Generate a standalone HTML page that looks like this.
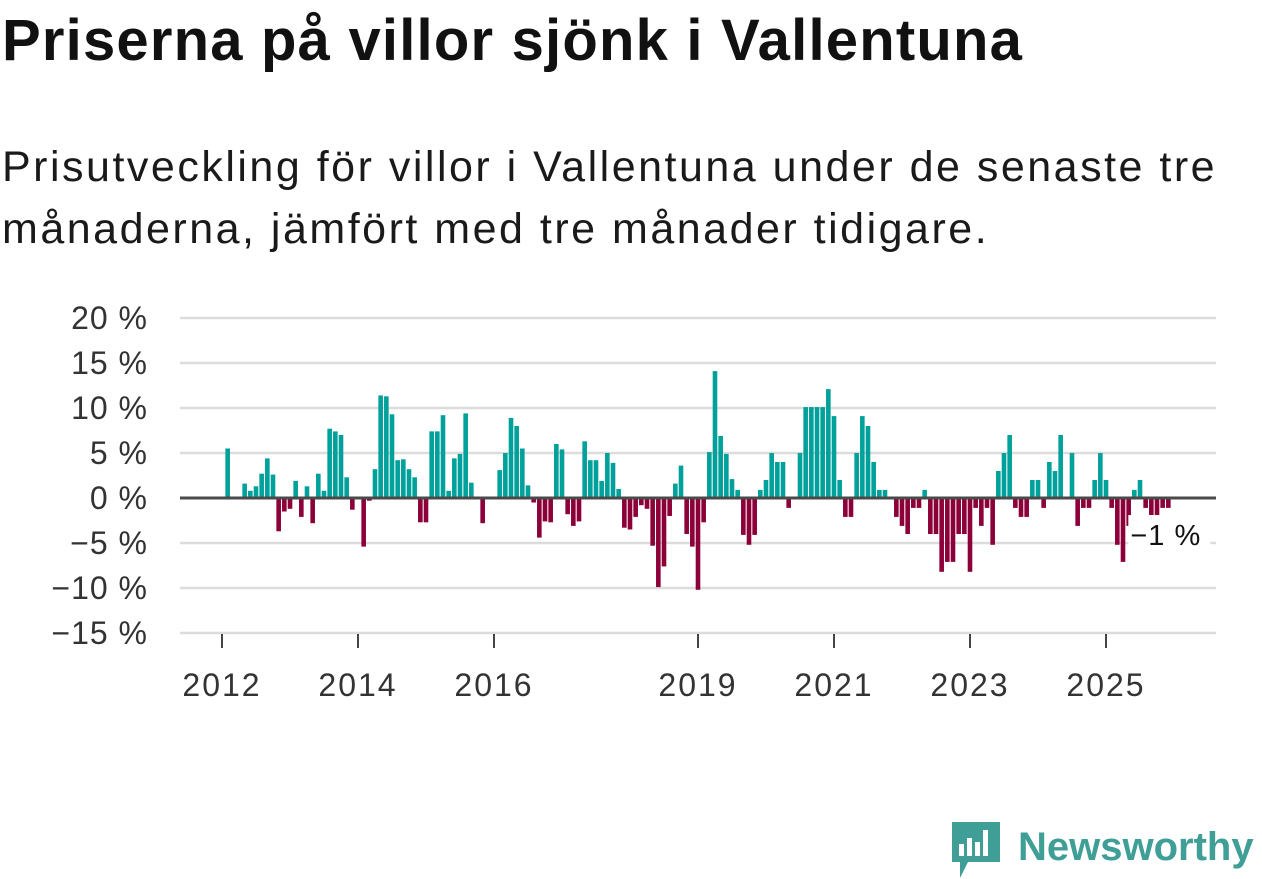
<!DOCTYPE html>
<html><head><meta charset="utf-8">
<style>
body{margin:0;background:#fff;width:1262px;height:879px;overflow:hidden;font-family:"Liberation Sans",sans-serif;color:#111}
h1{position:absolute;left:2px;top:7px;margin:0;font-size:58px;font-weight:bold;letter-spacing:1.2px}
.sub{position:absolute;left:2px;top:136px;margin:0;font-size:43px;line-height:62px;color:#1a1a1a;letter-spacing:2.5px}
svg{position:absolute;left:0;top:0}
</style></head><body>
<h1>Priserna på villor sjönk i Vallentuna</h1>
<p class="sub">Prisutveckling för villor i Vallentuna under de senaste tre<br>månaderna, jämfört med tre månader tidigare.</p>
<svg id="chart" width="1262" height="879"></svg>
<script>
const values = [0,5.5,0,0,1.6,0.8,1.3,2.7,4.4,2.6,-3.7,-1.5,-1.2,1.9,-2.1,1.3,-2.8,2.7,0.8,7.7,7.4,7.0,2.3,-1.3,0,-5.4,-0.3,3.2,11.4,11.3,9.3,4.2,4.3,3.2,2.3,-2.7,-2.7,7.4,7.4,9.2,0.8,4.4,4.9,9.4,1.7,0,-2.8,0,0,
3.1,5.0,8.9,8.0,5.5,1.4,-0.5,-4.4,-2.6,-2.7,6.0,5.4,-1.8,-3.1,-2.6,6.3,4.2,4.2,1.9,5.0,3.9,1.0,-3.3,-3.5,-2.1,-0.8,-1.2,-5.3,-9.9,-7.6,-2.0,1.6,3.6,-4.0,-5.4,-10.2,-2.7,5.1,14.1,6.9,4.9,2.1,0.9,-4.1,-5.2,-4.1,0.9,2.0,
5.0,4.0,4.0,-1.1,0,5.0,10.1,10.1,10.1,10.1,12.1,9.1,2.0,-2.1,-2.1,5.0,9.1,8.0,4.0,0.9,0.9,0,-2.1,-3.1,-4.0,-1.1,-1.1,0.9,-4.0,-4.0,-8.2,-7.1,-7.1,-4.0,-4.0,-8.2,-1.1,-3.1,-1.1,-5.2,3.0,5.0,
7.0,-1.1,-2.1,-2.1,2.0,2.0,-1.1,4.0,3.0,7.0,0,5.0,-3.1,-1.1,-1.1,2.0,5.0,2.0,-1.1,-5.2,-7.1,-3.1,0.9,2.0,-1.1,-2.1,-1.9,-1.1,-1.1];
const yTicks = [20,15,10,5,0,-5,-10,-15];
const yTickLabels = ["20 %","15 %","10 %","5 %","0 %","−5 %","−10 %","−15 %"];
const xTickYears = [2012,2014,2016,2019,2021,2023,2025];
const lastLabel = "−1 %";

const svg = document.getElementById('chart');
const NS = 'http://www.w3.org/2000/svg';
const x0 = 222, pxPerMonth = 68/12, y0 = 498, pxPerPct = 9;
const xScale = m => x0 + m*pxPerMonth;
const yScale = v => y0 - v*pxPerPct;
function mk(tag, attrs){const e=document.createElementNS(NS,tag);for(const k in attrs)e.setAttribute(k,attrs[k]);svg.appendChild(e);return e;}

yTicks.forEach((t,i)=>{
  const g = mk('line',{x1:180,x2:1216,y1:yScale(t),y2:yScale(t),stroke:'#dcdcdc','stroke-width':2.5});
  
  
  const tx = mk('text',{x:148,y:yScale(t)+11,'text-anchor':'end','font-size':32,'letter-spacing':1,fill:'#333','font-family':'Liberation Sans, sans-serif'});
  tx.textContent = yTickLabels[i];
  
  
});
xTickYears.forEach(yr=>{
  const x = xScale((yr-2012)*12);
  const l = mk('line',{x1:x,x2:x,y1:634,y2:648,stroke:'#444','stroke-width':2});
  
  
  const tx = mk('text',{x:x,y:696,'text-anchor':'middle','font-size':32,'letter-spacing':2,fill:'#333','font-family':'Liberation Sans, sans-serif'});
  tx.textContent = yr;
  
  
});
values.forEach((v,m)=>{
  if(v===0) return;
  const x = xScale(m);
  const r = mk('rect',{x:x-2.3,width:4.6,y:Math.min(yScale(v),y0),height:Math.abs(v)*pxPerPct,fill:v>0?'#00a19a':'#8c0039'});
  
  
});
const zl = mk('line',{x1:180,x2:1216,y1:y0,y2:y0,stroke:'#4a4a4a','stroke-width':3});


const lastX = xScale(values.length-1);
const bg = mk('rect',{x:lastX-40,y:515,width:82,height:34,fill:'#fff'});


const lab = mk('text',{x:lastX-38,y:545,'font-size':29,'letter-spacing':1,fill:'#111','font-family':'Liberation Sans, sans-serif'});
lab.textContent = lastLabel;



const lg = document.createElementNS(NS,'g');


svg.appendChild(lg);
lg.innerHTML = '<path d="M952 822 h48 v40 h-32 l-8 16 v-16 h-8 z" fill="#3f9e96"/><rect x="959" y="844" width="5" height="12" fill="#fff"/><rect x="967" y="838" width="5" height="18" fill="#fff"/><rect x="975" y="842" width="5" height="14" fill="#fff"/><rect x="983" y="830" width="5" height="26" fill="#fff"/><text x="1018" y="860" font-size="40" font-weight="bold" fill="#3f9e96" font-family="Liberation Sans, sans-serif">Newsworthy</text>';
</script>
</body></html>
